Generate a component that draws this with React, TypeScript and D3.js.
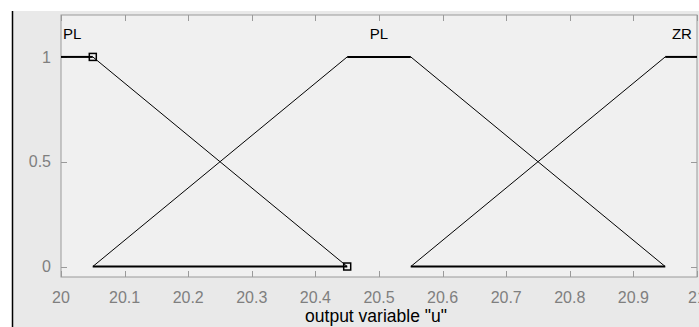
import React, { useEffect, useRef } from 'react'
import * as d3 from "d3";

////////////////////
//// Data

const xTicks = [20, 20.1, 20.2, 20.3, 20.4, 20.5, 20.6, 20.7, 20.8, 20.9, 21]
const yTicks = [0, 0.5, 1]

// membership functions, [x, mu]
const mfLeft = [[20, 1], [20.05, 1], [20.45, 0]]
const mfMid = [[20.05, 0], [20.45, 1], [20.55, 1], [20.95, 0]]
const mfRight = [[20.55, 0], [20.95, 1], [21, 1]]
const zeroSegments = [[20.05, 20.45], [20.55, 20.95]]
const markers = [[20.05, 1], [20.45, 0]]

const mfNames = ["PL", "PL", "ZR"]
const mfLabelX = [20.003, 20.5, 20.992]

const W = 699, H = 327

export default function App() {
    const svgRef = useRef(null);

    useEffect(() => {
        const svg = d3.select(svgRef.current);
        svg.selectAll("*").remove();

        const margin = { left: 61, right: 2, top: 15, bottom: 50 }
        const x = d3.scaleLinear([20, 21], [margin.left, W - margin.right]);
        const y = d3.scaleLinear([-0.05, 1.2], [H - margin.bottom, margin.top]);

        // figure background
        svg.append("rect").attr("x", 0).attr("y", 0).attr("width", W).attr("height", H).attr("fill", "#fff");
        svg.append("rect").attr("x", 12).attr("y", 11).attr("width", W - 12).attr("height", H - 11).attr("fill", "#e9e9e9");
        svg.append("line").attr("x1", 12.5).attr("x2", 12.5).attr("y1", 11).attr("y2", H)
            .attr("stroke", "#000").attr("stroke-width", 1.5);

        // axes box
        svg.append("rect")
            .attr("x", x(20)).attr("y", y(1.2))
            .attr("width", x(21) - x(20)).attr("height", y(-0.05) - y(1.2))
            .attr("fill", "#f0f0f0")
            .attr("stroke", "#9a9a9a");

        const axisColor = "#9a9a9a"
        const labelColor = "#7f7f7f"
        const font = "Liberation Sans, Arial, sans-serif"

        const g = svg.append("g");

        // x ticks (inward, top and bottom)
        xTicks.forEach(t => {
            const px = Math.round(x(t)) + 0.5
            g.append("line").attr("x1", px).attr("x2", px).attr("y1", y(-0.05)).attr("y2", y(-0.05) - 6).attr("stroke", axisColor);
            g.append("line").attr("x1", px).attr("x2", px).attr("y1", y(1.2)).attr("y2", y(1.2) + 6).attr("stroke", axisColor);
            g.append("text")
                .attr("x", x(t)).attr("y", 303)
                .attr("text-anchor", "middle")
                .attr("font-family", font).attr("font-size", 16)
                .attr("fill", labelColor)
                .text(d3.format("")(t));
        })

        // y ticks (inward, left and right)
        yTicks.forEach(t => {
            const py = Math.round(y(t)) + 0.5
            g.append("line").attr("x1", x(20)).attr("x2", x(20) + 6).attr("y1", py).attr("y2", py).attr("stroke", axisColor);
            g.append("line").attr("x1", x(21)).attr("x2", x(21) - 6).attr("y1", py).attr("y2", py).attr("stroke", axisColor);
            g.append("text")
                .attr("x", 51).attr("y", y(t))
                .attr("dy", "0.36em")
                .attr("text-anchor", "end")
                .attr("font-family", font).attr("font-size", 16)
                .attr("fill", labelColor)
                .text(t);
        })

        svg.append("text")
            .attr("x", (x(20) + x(21)) / 2 - 3).attr("y", 322)
            .attr("text-anchor", "middle")
            .attr("font-family", font).attr("font-size", 17.5)
            .attr("fill", "#000")
            .text('output variable "u"');

        // membership functions, horizontal parts drawn heavier
        const curves = g.append("g").attr("fill", "none").attr("stroke", "#000");
        [mfLeft, mfMid, mfRight].forEach(pts => {
            for (let i = 1; i < pts.length; i++) {
                const a = pts[i - 1], b = pts[i]
                curves.append("line")
                    .attr("x1", x(a[0])).attr("y1", y(a[1]))
                    .attr("x2", x(b[0])).attr("y2", y(b[1]))
                    .attr("stroke-width", a[1] === b[1] ? 2 : 1);
            }
        })
        zeroSegments.forEach(([a, b]) => {
            curves.append("line")
                .attr("x1", x(a)).attr("y1", y(0))
                .attr("x2", x(b)).attr("y2", y(0))
                .attr("stroke-width", 2);
        })

        // selected points
        g.selectAll("rect.marker")
            .data(markers)
            .join("rect")
            .attr("class", "marker")
            .attr("x", d => x(d[0]) - 3.5).attr("y", d => y(d[1]) - 3.5)
            .attr("width", 7).attr("height", 7)
            .attr("fill", "none").attr("stroke", "#000").attr("stroke-width", 1.5);

        // MF names
        mfNames.forEach((n, i) => {
            g.append("text")
                .attr("x", x(mfLabelX[i]))
                .attr("y", 39)
                .attr("text-anchor", i === 0 ? "start" : i === 2 ? "end" : "middle")
                .attr("font-family", font).attr("font-size", 15)
                .attr("fill", "#000")
                .text(n);
        })
    }, []);

    return <svg ref={svgRef} width={W} height={H} style={{ position: "fixed", left: 0, top: 0 }}/>;
}
